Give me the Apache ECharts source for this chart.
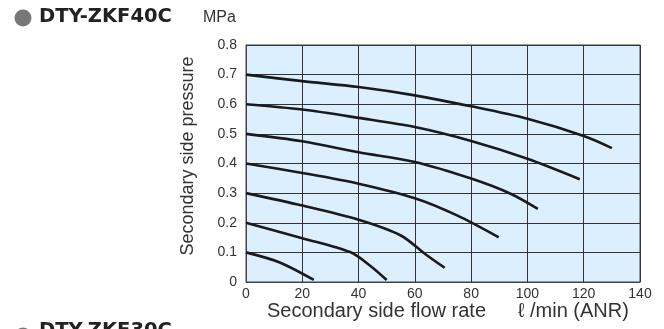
<!DOCTYPE html>
<html>
<head>
<meta charset="utf-8">
<script src="https://cdn.jsdelivr.net/npm/echarts@6/dist/echarts.min.js"></script>
<style>
  html, body { margin: 0; padding: 0; background: #fff; }
  #chart { width: 664px; height: 329px; }
</style>
</head>
<body>
<div id="chart"></div>
<script>
  // set pressure curves (flow l/min, pressure MPa)
  var flow07 = [0, 20, 40, 60, 80, 100, 120, 130];
  var pres07 = [0.70, 0.678, 0.658, 0.630, 0.593, 0.551, 0.493, 0.452];
  var flow06 = [0, 20, 40, 60, 80, 100, 118.6];
  var pres06 = [0.60, 0.582, 0.554, 0.523, 0.476, 0.416, 0.347];
  var flow05 = [0, 20, 40, 60, 80, 94, 103.7];
  var pres05 = [0.50, 0.475, 0.438, 0.405, 0.349, 0.298, 0.247];
  var flow04 = [0, 20, 40, 60, 75, 89.8];
  var pres04 = [0.40, 0.368, 0.332, 0.283, 0.225, 0.151];
  var flow03 = [0, 20, 40, 55, 64, 70.6];
  var pres03 = [0.30, 0.258, 0.21, 0.157, 0.092, 0.048];
  var flow02 = [0, 20, 37, 44, 50];
  var pres02 = [0.20, 0.148, 0.101, 0.056, 0.007];
  var flow01 = [0, 12, 24.1];
  var pres01 = [0.10, 0.066, 0.007];

  var curves = [
    [flow07, pres07], [flow06, pres06], [flow05, pres05], [flow04, pres04],
    [flow03, pres03], [flow02, pres02], [flow01, pres01]
  ];

  function pairs(xs, ys) {
    var out = [];
    for (var i = 0; i < xs.length; i++) out.push([xs[i], ys[i]]);
    return out;
  }

  var series = curves.map(function (c) {
    return {
      type: 'line',
      smooth: 0.3,
      showSymbol: false,
      silent: true,
      lineStyle: { color: '#1a1a1a', width: 2.6 },
      data: pairs(c[0], c[1])
    };
  });

  var font = 'Liberation Sans, Arial, sans-serif';
  var chart = echarts.init(document.getElementById('chart'));
  chart.setOption({
    animation: false,
    textStyle: { fontFamily: font },
    grid: {
      left: 246, right: 24, top: 45, bottom: 47,
      show: true, backgroundColor: '#dcefff', borderColor: '#444', borderWidth: 1
    },
    xAxis: {
      type: 'value', min: 0, max: 140, interval: 20,
      axisLine: { show: true, lineStyle: { color: '#444', width: 1 } },
      axisTick: { show: false },
      splitLine: { show: true, lineStyle: { color: '#333', width: 1 } },
      axisLabel: { color: '#333', fontSize: 14, margin: 5 }
    },
    yAxis: {
      type: 'value', min: 0, max: 0.8, interval: 0.1,
      axisLine: { show: true, lineStyle: { color: '#444', width: 1 } },
      axisTick: { show: false },
      splitLine: { show: true, lineStyle: { color: '#333', width: 1 } },
      axisLabel: {
        color: '#333', fontSize: 14, margin: 9,
        formatter: function (v) { return v === 0 ? '0' : v.toFixed(1); }
      }
    },
    graphic: [
      { type: 'circle', shape: { cx: 23, cy: 18, r: 8.5 }, style: { fill: '#777' } },
      { type: 'text', left: 39, top: 7, style: { text: 'DTY-ZKF40C', fill: '#222', font: 'bold 19.5px DejaVu Sans, sans-serif' } },
      { type: 'text', left: 203, top: 10, style: { text: 'MPa', fill: '#333', font: '16px ' + font } },
      {
        type: 'text', x: 188, y: 156, rotation: Math.PI / 2,
        style: { text: 'Secondary side pressure', fill: '#333', font: '18px ' + font, align: 'center', verticalAlign: 'middle' }
      },
      { type: 'text', left: 267, top: 301, style: { text: 'Secondary side flow rate', fill: '#333', font: '20px ' + font } },
      { type: 'text', left: 518, top: 301, style: { text: 'ℓ /min (ANR)', fill: '#333', font: '20px ' + font } },
      { type: 'circle', shape: { cx: 23, cy: 336, r: 8.5 }, style: { fill: '#777' } },
      { type: 'text', left: 39, top: 321, style: { text: 'DTY-ZKF30C', fill: '#222', font: 'bold 19.5px DejaVu Sans, sans-serif' } }
    ],
    series: series
  });
</script>
</body>
</html>
